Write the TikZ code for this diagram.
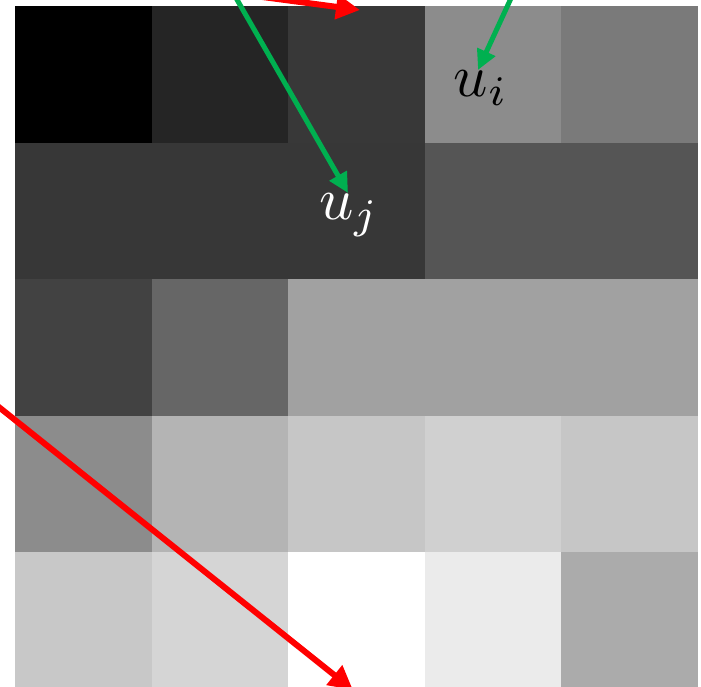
\documentclass[tikz,border=0pt]{standalone}
\usetikzlibrary{arrows.meta}
\definecolor{arrred}{RGB}{255,0,0}
\definecolor{arrgreen}{RGB}{0,176,80}
\tikzset{
  cell/.style={draw=none},
  redarrow/.style={draw=arrred, line width=6pt, -{Triangle[length=24pt,width=24pt]}},
  greenarrow/.style={draw=arrgreen, line width=5pt, -{Triangle[length=20pt,width=19pt]}},
  lbl/.style={inner sep=0pt}
}
\begin{document}
\begin{tikzpicture}[x=1pt,y=-1pt]
\useasboundingbox (0,0) rectangle (701,687);
\clip (0,0) rectangle (701,687);
\fill[white] (0,0) rectangle (701,687);
% row 1
\fill[cell, fill={rgb,255:red,0;green,0;blue,0}] (15,6) rectangle (151.6,142.6);
\fill[cell, fill={rgb,255:red,37;green,37;blue,37}] (151.6,6) rectangle (288.2,142.6);
\fill[cell, fill={rgb,255:red,56;green,56;blue,56}] (288.2,6) rectangle (424.8,142.6);
\fill[cell, fill={rgb,255:red,140;green,140;blue,140}] (424.8,6) rectangle (561.4,142.6);
\fill[cell, fill={rgb,255:red,122;green,122;blue,122}] (561.4,6) rectangle (698,142.6);
% row 2
\fill[cell, fill={rgb,255:red,55;green,55;blue,55}] (15,142.6) rectangle (424.8,279.2);
\fill[cell, fill={rgb,255:red,85;green,85;blue,85}] (424.8,142.6) rectangle (698,279.2);
% row 3
\fill[cell, fill={rgb,255:red,66;green,66;blue,66}] (15,279.2) rectangle (151.6,415.8);
\fill[cell, fill={rgb,255:red,102;green,102;blue,102}] (151.6,279.2) rectangle (288.2,415.8);
\fill[cell, fill={rgb,255:red,161;green,161;blue,161}] (288.2,279.2) rectangle (698,415.8);
% row 4
\fill[cell, fill={rgb,255:red,140;green,140;blue,140}] (15,415.8) rectangle (151.6,552.4);
\fill[cell, fill={rgb,255:red,180;green,180;blue,180}] (151.6,415.8) rectangle (288.2,552.4);
\fill[cell, fill={rgb,255:red,198;green,198;blue,198}] (288.2,415.8) rectangle (424.8,552.4);
\fill[cell, fill={rgb,255:red,208;green,208;blue,208}] (424.8,415.8) rectangle (561.4,552.4);
\fill[cell, fill={rgb,255:red,198;green,198;blue,198}] (561.4,415.8) rectangle (698,552.4);
% row 5
\fill[cell, fill={rgb,255:red,200;green,200;blue,200}] (15,552.4) rectangle (151.6,689);
\fill[cell, fill={rgb,255:red,213;green,213;blue,213}] (151.6,552.4) rectangle (288.2,689);
\fill[cell, fill={rgb,255:red,255;green,255;blue,255}] (288.2,552.4) rectangle (424.8,689);
\fill[cell, fill={rgb,255:red,235;green,235;blue,235}] (424.8,552.4) rectangle (561.4,689);
\fill[cell, fill={rgb,255:red,171;green,171;blue,171}] (561.4,552.4) rectangle (698,689);
% labels
\node[lbl, text=black] (ui) at (481,88) {\scalebox{6}{$u_i$}};
\node[lbl, text=white] (uj) at (349,215) {\scalebox{6}{$u_j$}};
% arrow ends
\coordinate (r1s) at (180,-14);
\coordinate (r1t) at (360,10);
\coordinate (r2s) at (-40,376);
\coordinate (r2t) at (353,690);
\coordinate (g1s) at (220,-30);
\coordinate (g1t) at (348,193);
\coordinate (g2s) at (524,-30);
\coordinate (g2t) at (478,70);
\draw[redarrow] (r1s) -- (r1t);
\draw[redarrow] (r2s) -- (r2t);
\draw[greenarrow] (g1s) -- (g1t);
\draw[greenarrow] (g2s) -- (g2t);
\end{tikzpicture}
\end{document}
